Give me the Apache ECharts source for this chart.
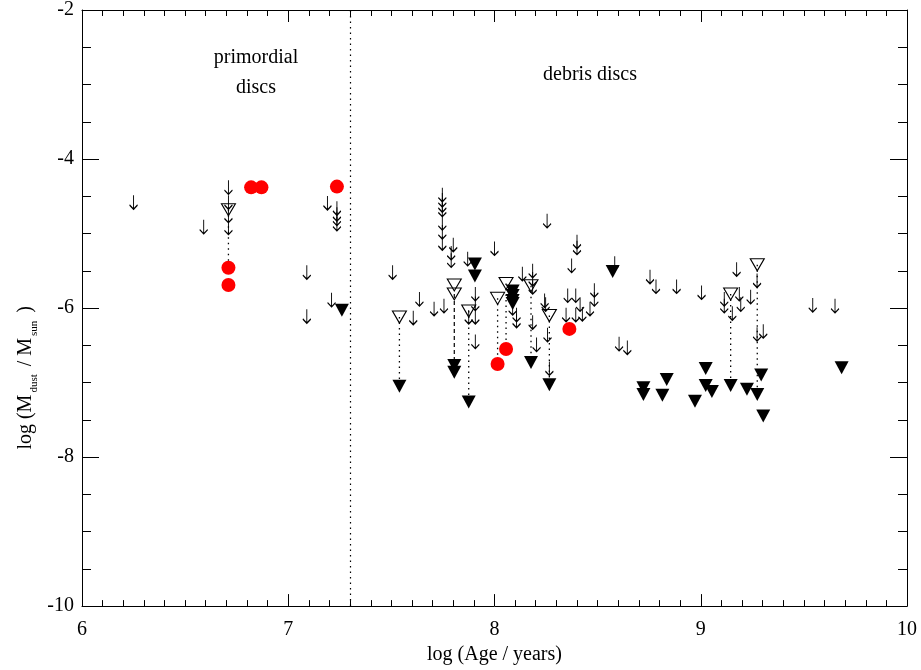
<!DOCTYPE html>
<html><head><meta charset="utf-8">
<script src="https://cdn.jsdelivr.net/npm/echarts@6/dist/echarts.min.js"></script>
<style>html,body{margin:0;padding:0;background:#fff}#c{width:921px;height:670px}</style>
</head><body><div id="c"></div>
<script>
// upper limits (arrows)
const upperLimits = [
  [6.25,-4.58],[6.59,-4.91],
  [6.71,-4.38],[6.71,-4.58],[6.71,-4.76],[6.71,-4.92],
  [7.19,-4.59],[7.236,-4.66],[7.236,-4.74],[7.236,-4.80],[7.236,-4.87],
  [7.09,-5.52],[7.21,-5.89],[7.09,-6.11],
  [7.747,-4.48],[7.747,-4.55],[7.747,-4.62],[7.747,-4.68],[7.747,-4.86],[7.747,-4.98],[7.747,-5.13],
  [7.80,-5.15],[7.79,-5.26],[7.79,-5.36],[7.87,-5.34],[8.00,-5.20],
  [8.255,-4.83],[8.40,-5.11],[8.40,-5.19],[8.374,-5.43],[8.583,-5.40],
  [7.506,-5.52],[7.636,-5.88],[7.606,-6.13],[7.707,-6.01],[7.755,-5.97],
  [7.907,-5.81],[7.907,-5.94],[7.907,-6.12],[7.907,-6.45],[7.875,-6.12],
  [8.088,-6.00],[8.107,-6.09],[8.107,-6.17],
  [8.135,-5.54],[8.185,-5.50],[8.185,-5.61],[8.185,-5.72],
  [8.185,-6.19],[8.204,-6.49],[8.248,-5.95],[8.243,-5.90],
  [8.257,-6.36],[8.266,-6.81],
  [8.355,-5.83],[8.394,-5.83],[8.415,-5.95],[8.426,-6.08],[8.394,-6.09],[8.347,-6.09],[8.463,-6.01],[8.484,-5.76],[8.484,-5.88],
  [8.604,-6.48],[8.644,-6.53],
  [8.754,-5.58],[8.783,-5.71],[8.883,-5.71],[9.004,-5.79],[9.174,-5.48],
  [9.153,-6.07],[9.114,-5.88],[9.114,-5.97],[9.187,-5.81],[9.194,-5.95],[9.242,-5.85],
  [9.273,-5.63],[9.273,-6.35],[9.303,-6.31],
  [9.543,-5.96],[9.651,-5.97]
];
// open triangles
const openTriangles = [
  [6.71,-4.68],[7.539,-6.12],[7.805,-5.69],[7.805,-5.81],[7.875,-6.04],
  [8.015,-5.87],[8.056,-5.67],[8.177,-5.70],[8.266,-6.10],[9.145,-5.81],[9.274,-5.42]
];
// filled triangles
const filledTriangles = [
  [7.26,-6.03],[7.905,-5.41],[7.905,-5.57],[8.573,-5.51],
  [7.539,-7.05],[7.805,-6.77],[7.805,-6.86],[7.875,-7.26],
  [8.088,-5.77],[8.088,-5.83],[8.088,-5.90],[8.088,-5.94],
  [8.177,-6.73],[8.266,-7.03],
  [9.683,-6.80],[9.024,-6.81],[8.835,-6.96],[8.722,-7.07],[8.722,-7.16],[8.814,-7.17],
  [8.972,-7.25],[9.024,-7.04],[9.054,-7.12],[9.145,-7.04],
  [9.293,-6.90],[9.224,-7.09],[9.274,-7.16],[9.303,-7.45]
];
// detections (red)
const detections = [
  [6.82,-4.38],[6.87,-4.38],[7.236,-4.37],[6.71,-5.46],[6.71,-5.69],
  [8.015,-6.75],[8.056,-6.55],[8.363,-6.28]
];
// links between upper and lower estimates: [x, yTop, yBottom]
const dottedLinks = [
  [6.71,-4.68,-5.46],[7.539,-6.12,-7.05],[7.875,-6.04,-7.26],[8.015,-5.87,-6.75],
  [8.056,-5.67,-6.55],[8.177,-5.70,-6.73],[8.266,-6.10,-7.03],[9.145,-5.81,-7.04],[9.274,-5.42,-7.16]
];
const dashedLinks = [[7.805,-5.81,-6.86]];
const xTicks = [6,7,8,9,10];
const yTicks = [-10,-8,-6,-4,-2];
const boundaryAge = 7.3;

const FONT = 'Liberation Serif';
const ch = echarts.init(document.getElementById('c'));
const arrowPath = 'path://M5,0 L5,15 M1,10.5 L5,15 L9,10.5';
const triPath = 'path://M0,0 L12,0 L6,11 Z';

const series = [];
dottedLinks.forEach(l=>series.push({type:'line',data:[[l[0],l[1]],[l[0],l[2]]],symbol:'none',silent:true,
  lineStyle:{color:'#000',width:1.3,type:[1.5,4]},z:1}));
dashedLinks.forEach(l=>series.push({type:'line',data:[[l[0],l[1]],[l[0],l[2]]],symbol:'none',silent:true,
  lineStyle:{color:'#000',width:1.2,type:[4,3]},z:1}));
series.push({type:'scatter',data:upperLimits,symbol:arrowPath,symbolSize:[8,14],
  itemStyle:{color:'rgba(0,0,0,0)',borderColor:'#000',borderWidth:1.2,opacity:1},z:3,
  markLine:{silent:true,symbol:'none',label:{show:false},lineStyle:{color:'#000',type:[1.5,4],width:1.2},data:[{xAxis:boundaryAge}]}});
series.push({type:'scatter',data:openTriangles,symbol:triPath,symbolSize:[14,12],
  itemStyle:{color:'rgba(0,0,0,0)',borderColor:'#000',borderWidth:1.1,opacity:1},z:3});
series.push({type:'scatter',data:filledTriangles,symbol:triPath,symbolSize:[14,13],
  itemStyle:{color:'#000',opacity:1},z:4});
series.push({type:'scatter',data:detections,symbol:'circle',symbolSize:14,
  itemStyle:{color:'#ff0000',opacity:1},z:5});

const xBase = {type:'value',min:xTicks[0],max:xTicks[xTicks.length-1],interval:1,
  axisLine:{show:true,onZero:false,lineStyle:{color:'#000',width:1}},splitLine:{show:false},
  axisTick:{show:true,inside:true,length:12,lineStyle:{color:'#000'}},
  minorTick:{show:true,splitNumber:10,length:6,lineStyle:{color:'#000'}}};
const yBase = {type:'value',min:yTicks[0],max:yTicks[yTicks.length-1],interval:2,
  axisLine:{show:true,onZero:false,lineStyle:{color:'#000',width:1}},splitLine:{show:false},
  axisTick:{show:true,inside:true,length:17,lineStyle:{color:'#000'}},
  minorTick:{show:true,splitNumber:4,length:9,lineStyle:{color:'#000'}}};

ch.setOption({
  animation:false,
  backgroundColor:'#fff',
  grid:{left:82,right:14,top:5,bottom:63},
  xAxis:[
    Object.assign({},xBase,{position:'bottom',name:'log (Age / years)',nameLocation:'middle',nameGap:37,
      nameTextStyle:{fontFamily:FONT,fontSize:20,color:'#000'},
      axisLabel:{show:true,margin:14,fontFamily:FONT,fontSize:20,color:'#000',showMinLabel:true,showMaxLabel:true}}),
    Object.assign({},xBase,{position:'top',axisLabel:{show:false}})
  ],
  yAxis:[
    Object.assign({},yBase,{position:'left',
      axisLabel:{show:true,margin:8,fontFamily:FONT,fontSize:20,color:'#000',showMinLabel:true,showMaxLabel:true}}),
    Object.assign({},yBase,{position:'right',axisLabel:{show:false}})
  ],
  graphic:[
    {type:'text',left:16,top:306,rotation:Math.PI/2,
      style:{text:'{m|log (M}{s|dust}{m| / M}{s|sun}{m| )}',fill:'#000',align:'center',verticalAlign:'middle',
        rich:{m:{fontFamily:FONT,fontSize:20,fill:'#000'},s:{fontFamily:FONT,fontSize:11,fill:'#000',padding:[16,3,0,2]}}}},
    {type:'text',x:256,y:58,style:{text:'primordial',fontFamily:FONT,fontSize:20,fill:'#000',align:'center',verticalAlign:'middle'}},
    {type:'text',x:256,y:88,style:{text:'discs',fontFamily:FONT,fontSize:20,fill:'#000',align:'center',verticalAlign:'middle'}},
    {type:'text',x:590,y:75,style:{text:'debris discs',fontFamily:FONT,fontSize:20,fill:'#000',align:'center',verticalAlign:'middle'}}
  ],
  series:series
});
</script></body></html>
